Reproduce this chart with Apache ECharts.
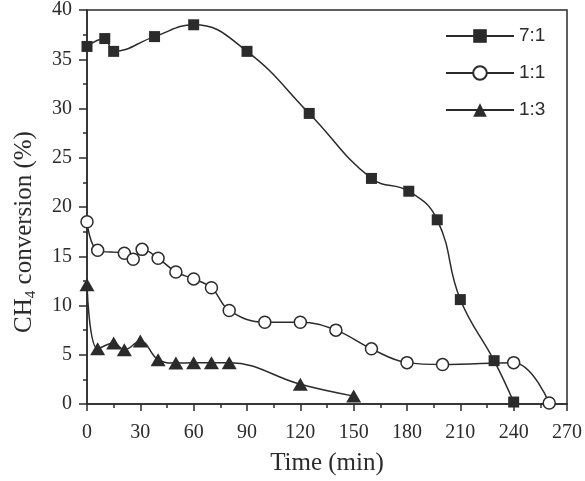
<!DOCTYPE html>
<html>
<head>
<meta charset="utf-8">
<script src="https://cdn.jsdelivr.net/npm/echarts@6/dist/echarts.min.js"></script>
<style>html,body{margin:0;padding:0;background:#fff}#c{width:585px;height:481px}</style>
</head>
<body>
<div id="c"></div>
<script>
var xTicks = [0, 30, 60, 90, 120, 150, 180, 210, 240, 270];
var yTicks = [0, 5, 10, 15, 20, 25, 30, 35, 40];

var x71 = [0, 10, 15, 38, 60, 90, 125, 160, 181, 197, 210, 229, 240];
var y71 = [36.3, 37.1, 35.8, 37.3, 38.5, 35.8, 29.5, 22.9, 21.6, 18.7, 10.6, 4.4, 0.2];

var x11 = [0, 6, 21, 26, 31, 40, 50, 60, 70, 80, 100, 120, 140, 160, 180, 200, 240, 260];
var y11 = [18.5, 15.6, 15.3, 14.7, 15.7, 14.8, 13.4, 12.7, 11.8, 9.5, 8.3, 8.3, 7.5, 5.6, 4.2, 4.0, 4.2, 0.1];

var x13 = [0, 6, 15, 21, 30, 40, 50, 60, 70, 80, 120, 150];
var y13 = [12.1, 5.6, 6.2, 5.5, 6.4, 4.5, 4.15, 4.2, 4.2, 4.2, 2.0, 0.8];

var names = ['7:1', '1:1', '1:3'];

function pairs(xs, ys) { return xs.map(function (x, i) { return [x, ys[i]]; }); }

var ink = '#2b2b2b';
var serif = '"Liberation Serif","Times New Roman",serif';

var chart = echarts.init(document.getElementById('c'), null, {renderer: 'canvas'});
chart.setOption({
  animation: false,
  backgroundColor: '#fff',
  grid: {left: 87, right: 12, top: 10, bottom: 76, show: true, borderColor: ink, borderWidth: 1.5, backgroundColor: 'transparent'},
  legend: {
    orient: 'vertical', left: 440, top: 21,
    itemWidth: 68, itemHeight: 17, itemGap: 17,
    textStyle: {fontFamily: '"Liberation Sans",Arial,sans-serif', fontSize: 19, color: ink, lineHeight: 20},
    data: names
  },
  xAxis: {
    type: 'value', min: 0, max: 270, interval: 30,
    name: 'Time (min)', nameLocation: 'middle', nameGap: 47,
    nameTextStyle: {fontFamily: serif, fontSize: 25, color: ink},
    axisLine: {show: true, lineStyle: {color: ink, width: 1.5}},
    axisTick: {show: true, inside: false, length: 7, lineStyle: {color: ink, width: 1.5}},
    minorTick: {show: true, splitNumber: 2, length: 4, lineStyle: {color: ink, width: 1.5}},
    axisLabel: {fontFamily: serif, fontSize: 20, color: ink, margin: 19,
      formatter: function (v) { return xTicks.indexOf(v) >= 0 ? String(v) : ''; }},
    splitLine: {show: false}
  },
  yAxis: {
    type: 'value', min: 0, max: 40, interval: 5,
    name: '{a|CH}{s|4}{a| conversion (%)}', nameLocation: 'middle', nameGap: 48, nameRotate: 90,
    nameTextStyle: {padding: [0, 50, 0, 0], rich: {
      a: {fontFamily: serif, fontSize: 25, color: ink},
      s: {fontFamily: serif, fontSize: 15, color: ink, padding: [14, 0, 0, 0]}
    }},
    axisLine: {show: true, lineStyle: {color: ink, width: 1.5}},
    axisTick: {show: true, inside: false, length: 8, lineStyle: {color: ink, width: 1.5}},
    minorTick: {show: true, splitNumber: 2, length: 4, lineStyle: {color: ink, width: 1.5}},
    axisLabel: {fontFamily: serif, fontSize: 20, color: ink, margin: 15,
      formatter: function (v) { return yTicks.indexOf(v) >= 0 ? String(v) : ''; }},
    splitLine: {show: false}
  },
  series: [
    {name: names[0], type: 'line', data: pairs(x71, y71), smooth: 0.45,
      symbol: 'rect', symbolSize: 11,
      lineStyle: {color: ink, width: 1.5}, itemStyle: {color: ink, borderColor: ink, borderWidth: 0}},
    {name: names[1], type: 'line', data: pairs(x11, y11), smooth: 0.4,
      symbol: 'circle', symbolSize: 12,
      lineStyle: {color: ink, width: 1.5}, itemStyle: {color: '#fff', borderColor: ink, borderWidth: 1.5}},
    {name: names[2], type: 'line', data: pairs(x13, y13), smooth: 0.4,
      symbol: 'triangle', symbolSize: [15, 13],
      lineStyle: {color: ink, width: 1.5}, itemStyle: {color: ink, borderColor: ink, borderWidth: 0}}
  ]
});
</script>
</body>
</html>
